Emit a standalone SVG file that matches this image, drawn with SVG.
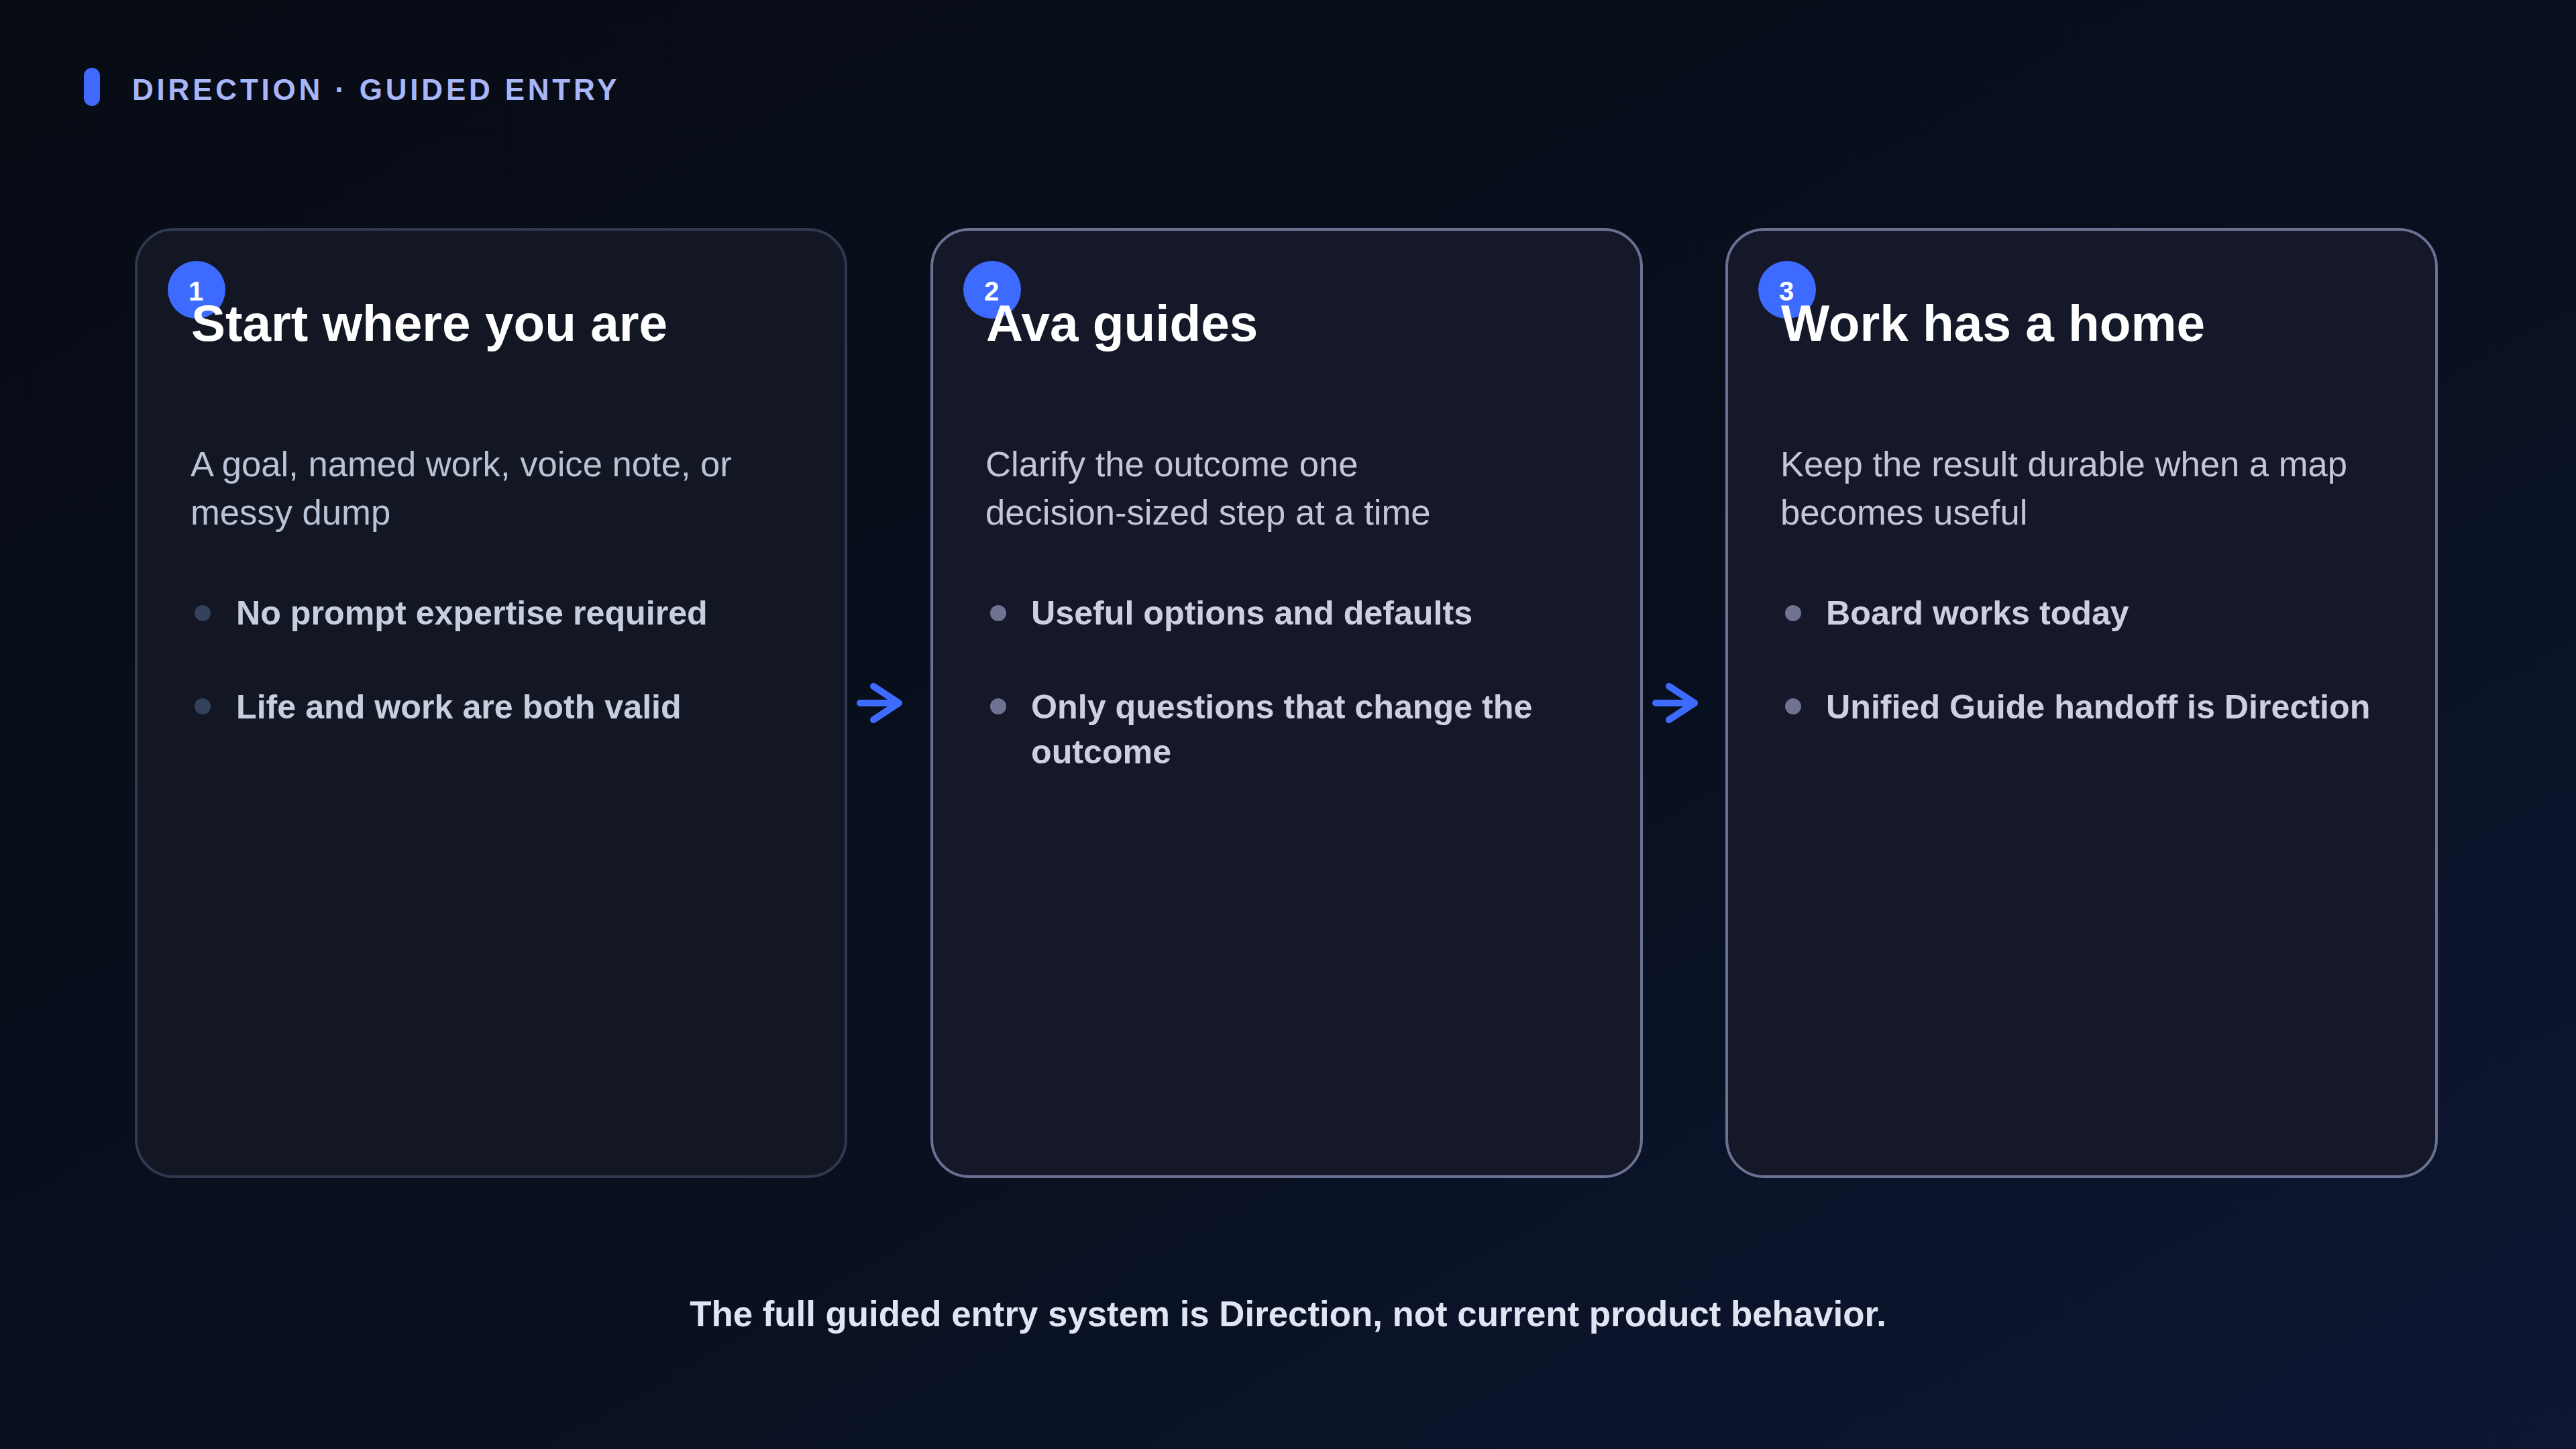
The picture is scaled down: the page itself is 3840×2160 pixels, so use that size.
<svg xmlns="http://www.w3.org/2000/svg" width="3840" height="2160" viewBox="0 0 3840 2160">
  <defs>
    <linearGradient id="bg" x1="0" y1="0" x2="1" y2="1">
      <stop offset="0" stop-color="#070b14"/>
      <stop offset="0.55" stop-color="#08101f"/>
      <stop offset="1" stop-color="#0d1733"/>
    </linearGradient>
  </defs>
  <style>
    .card1 { fill: #121723; stroke: #2f3a50; stroke-width: 4; }
    .card2 { fill: #151829; stroke: #6b7192; stroke-width: 4; }
    .badge { fill: #3e6bff; }
    .badge-num { font-family: "Liberation Sans", Arial, sans-serif; font-weight: 700; font-size: 40px; fill: #ffffff; text-anchor: middle; }
    .title { font-family: "Liberation Sans", Arial, sans-serif; font-weight: 700; font-size: 76.5px; fill: #ffffff; }
    .desc1 { font-family: "Liberation Sans", Arial, sans-serif; font-size: 52.6px; fill: #b9c3d6; }
    .desc2 { font-family: "Liberation Sans", Arial, sans-serif; font-size: 52.6px; fill: #c3c6d8; }
    .item1 { font-family: "Liberation Sans", Arial, sans-serif; font-weight: 700; font-size: 50.2px; fill: #c5cfe0; }
    .item2 { font-family: "Liberation Sans", Arial, sans-serif; font-weight: 700; font-size: 50.2px; fill: #cdd0e1; }
    .dot1 { fill: #33425a; }
    .dot2 { fill: #6f7391; }
    .arrow { fill: none; stroke: #3e6bff; stroke-width: 10; stroke-linecap: round; stroke-linejoin: round; }
    .kicker { font-family: "Liberation Sans", Arial, sans-serif; font-weight: 700; font-size: 44px; letter-spacing: 4.8px; fill: #a8b5f7; }
    .footer { font-family: "Liberation Sans", Arial, sans-serif; font-weight: 700; font-size: 52.8px; fill: #dfe5f2; text-anchor: middle; }
  </style>

  <rect x="0" y="0" width="3840" height="2160" fill="url(#bg)"/>

  <g id="header">
    <rect x="125" y="101" width="24" height="57" rx="12" fill="#4169ff"/>
    <text class="kicker" x="197" y="149">DIRECTION · GUIDED ENTRY</text>
  </g>

  <g id="node-1">
    <rect class="card1" x="203" y="342" width="1058" height="1412" rx="56"/>
    <circle class="badge" cx="293" cy="432" r="43"/>
    <text class="badge-num" x="292" y="448">1</text>
    <text class="title" x="285" y="508">Start where you are</text>
    <text class="desc1" x="284" y="710">A goal, named work, voice note, or</text>
    <text class="desc1" x="284" y="782">messy dump</text>
    <circle class="dot1" cx="302" cy="914" r="12"/>
    <text class="item1" x="352" y="931">No prompt expertise required</text>
    <circle class="dot1" cx="302" cy="1053" r="12"/>
    <text class="item1" x="352" y="1071">Life and work are both valid</text>
  </g>

  <g id="node-2">
    <rect class="card2" x="1389" y="342" width="1058" height="1412" rx="56"/>
    <circle class="badge" cx="1479" cy="432" r="43"/>
    <text class="badge-num" x="1478" y="448">2</text>
    <text class="title" x="1470" y="508">Ava guides</text>
    <text class="desc2" x="1469" y="710">Clarify the outcome one</text>
    <text class="desc2" x="1469" y="782">decision-sized step at a time</text>
    <circle class="dot2" cx="1488" cy="914" r="12"/>
    <text class="item2" x="1537" y="931">Useful options and defaults</text>
    <circle class="dot2" cx="1488" cy="1053" r="12"/>
    <text class="item2" x="1537" y="1071">Only questions that change the</text>
    <text class="item2" x="1537" y="1138">outcome</text>
  </g>

  <g id="node-3">
    <rect class="card2" x="2574" y="342" width="1058" height="1412" rx="56"/>
    <circle class="badge" cx="2664" cy="432" r="43"/>
    <text class="badge-num" x="2663" y="448">3</text>
    <text class="title" x="2655" y="508">Work has a home</text>
    <text class="desc2" x="2654" y="710">Keep the result durable when a map</text>
    <text class="desc2" x="2654" y="782">becomes useful</text>
    <circle class="dot2" cx="2673" cy="914" r="12"/>
    <text class="item2" x="2722" y="931">Board works today</text>
    <circle class="dot2" cx="2673" cy="1053" r="12"/>
    <text class="item2" x="2722" y="1071">Unified Guide handoff is Direction</text>
  </g>

  <g id="connectors">
    <path class="arrow" d="M1282,1048 H1340 M1302,1023 L1340,1048 L1302,1073"/>
    <path class="arrow" d="M2468,1048 H2526 M2488,1023 L2526,1048 L2488,1073"/>
  </g>

  <g id="footer">
    <text class="footer" x="1920" y="1977">The full guided entry system is Direction, not current product behavior.</text>
  </g>
</svg>
